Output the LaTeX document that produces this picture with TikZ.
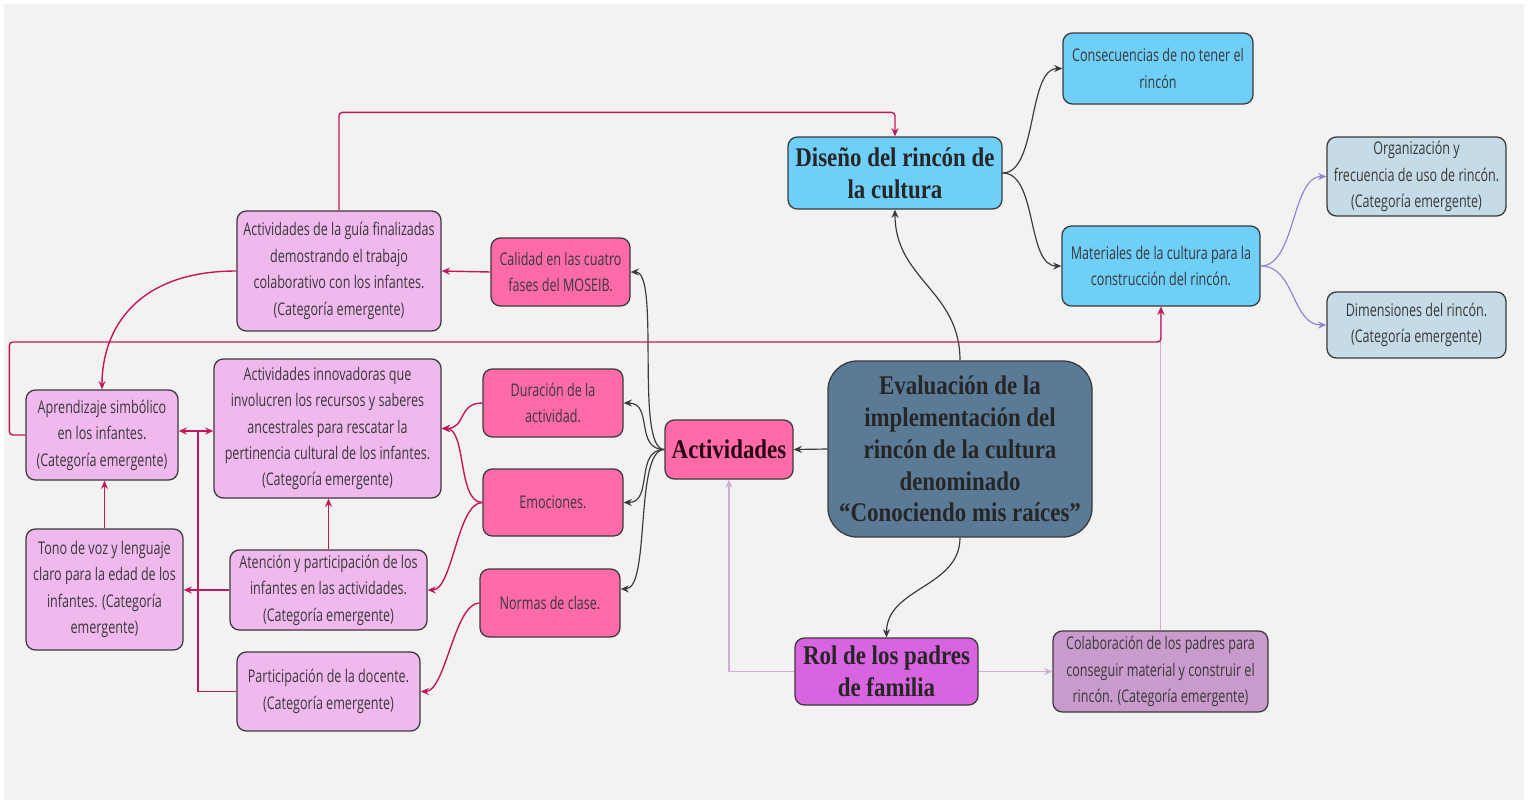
\documentclass[tikz,border=0pt]{standalone}
\usepackage{fontspec}
\setmainfont{Open Sans}[FakeStretch=0.72]
\newfontfamily\headfont{Liberation Serif}[FakeStretch=0.85]
\usetikzlibrary{arrows.meta}
\usetikzlibrary{positioning}

\definecolor{bg}{HTML}{F2F2F2}
\definecolor{skyfill}{HTML}{6FCFF9}
\definecolor{greyblue}{HTML}{C5DCE8}
\definecolor{slate}{HTML}{5B7A96}
\definecolor{hotpink}{HTML}{FF6BA9}
\definecolor{lightpink}{HTML}{F0B9EE}
\definecolor{orchid}{HTML}{D864E0}
\definecolor{mauve}{HTML}{C99BCD}
\definecolor{edgegray}{HTML}{3A3A3A}
\definecolor{magline}{HTML}{C2185B}
\definecolor{lavline}{HTML}{8F86D0}
\definecolor{lilacline}{HTML}{CDB0D4}

\newcommand{\smalltext}{\fontsize{14.9}{22.6}\selectfont}
\newcommand{\headtext}{\headfont\bfseries\fontsize{23}{27.2}\selectfont}

\begin{document}
\begin{tikzpicture}[x=0.03cm,y=-0.03cm,
   >={Stealth[length=7pt,width=6pt]},
   box/.style={draw=edgegray,line width=1.1pt,rounded corners=8pt,align=center,
      inner sep=2pt,font=\smalltext,text=black!78},
   head/.style={box,font=\headtext},
   link/.style={->,draw=edgegray,line width=1pt},
   maglink/.style={->,draw=magline,line width=1.2pt},
   lavlink/.style={->,draw=lavline,line width=1pt},
   lilaclink/.style={->,draw=lilacline,line width=1.2pt}]
   \fill[white] (0,0) rectangle (1528,804);
   \fill[bg] (4,4) rectangle (1524,800);

   \node[head,fill=slate,text=black!85,rounded corners=25pt,minimum width=7.92cm,minimum height=5.28cm]
      (eval) at (960,449) {Evaluación de la\\implementación del\\rincón de la cultura\\denominado\\“Conociendo mis raíces”};
   \node[head,fill=skyfill,text=black!85,minimum width=6.42cm,minimum height=2.16cm]
      (diseno) at (895,173) {Diseño del rincón de\\la cultura};
   \node[head,fill=hotpink,text=black!80!magline,minimum width=3.84cm,minimum height=1.77cm]
      (activ) at (729,449.5) {Actividades};
   \node[head,fill=orchid,text=black!85,minimum width=5.49cm,minimum height=2.01cm]
      (rol) at (886.5,671.5) {Rol de los padres\\de familia};

   \node[box,fill=skyfill,minimum width=5.7cm,minimum height=2.13cm]
      (cons) at (1158,68.5) {Consecuencias de no tener el\\rincón};
   \node[box,fill=skyfill,minimum width=5.94cm,minimum height=2.4cm]
      (mater) at (1161,266) {Materiales de la cultura para la\\construcción del rincón.};
   \node[box,fill=greyblue,minimum width=5.37cm,minimum height=2.37cm]
      (organ) at (1416.5,176.5) {Organización y\\frecuencia de uso de rincón.\\(Categoría emergente)};
   \node[box,fill=greyblue,minimum width=5.37cm,minimum height=1.98cm]
      (dimen) at (1416.5,325) {Dimensiones del rincón.\\(Categoría emergente)};
   \node[box,fill=mauve,minimum width=6.45cm,minimum height=2.43cm]
      (colab) at (1160.5,671.5) {Colaboración de los padres para\\conseguir material y construir el\\rincón. (Categoría emergente)};

   \node[box,fill=hotpink,minimum width=4.17cm,minimum height=2.04cm]
      (calid) at (560.5,272) {Calidad en las cuatro\\fases del MOSEIB.};
   \node[box,fill=hotpink,minimum width=4.2cm,minimum height=2.04cm]
      (durac) at (553,403) {Duración de la\\actividad.};
   \node[box,fill=hotpink,minimum width=4.2cm,minimum height=2.01cm]
      (emoc) at (553,502.5) {Emociones.};
   \node[box,fill=hotpink,minimum width=4.2cm,minimum height=2.04cm]
      (norm) at (550,603) {Normas de clase.};

   \node[box,fill=lightpink,minimum width=6.12cm,minimum height=3.6cm]
      (guia) at (339,271) {Actividades de la guía finalizadas\\demostrando el trabajo\\colaborativo con los infantes.\\(Categoría emergente)};
   \node[box,fill=lightpink,minimum width=6.81cm,minimum height=4.17cm]
      (innov) at (327.5,428.5) {Actividades innovadoras que\\involucren los recursos y saberes\\ancestrales para rescatar la\\pertinencia cultural de los infantes.\\(Categoría emergente)};
   \node[box,fill=lightpink,minimum width=4.56cm,minimum height=2.7cm]
      (aprend) at (102,435) {Aprendizaje simbólico\\en los infantes.\\(Categoría emergente)};
   \node[box,fill=lightpink,minimum width=4.71cm,minimum height=3.63cm]
      (tono) at (104.5,589.5) {Tono de voz y lenguaje\\claro para la edad de los\\infantes. (Categoría\\emergente)};
   \node[box,fill=lightpink,minimum width=5.91cm,minimum height=2.4cm]
      (atenc) at (328.5,590) {Atención y participación de los\\infantes en las actividades.\\(Categoría emergente)};
   \node[box,fill=lightpink,minimum width=5.49cm,minimum height=2.37cm]
      (docen) at (328.5,691.5) {Participación de la docente.\\(Categoría emergente)};

   \coordinate (split) at (198,431);

   \draw[lilaclink] (colab.north) -- (colab.north |- mater.south);
   \draw[lilaclink] (rol.east) -- (colab.west);
   \draw[lilaclink] (rol.west) -| (activ.south);

   \draw[link] (eval.west) -- (activ.east);
   \draw[link] (eval.north) .. controls +(0,-70) and +(0,70) .. (diseno.south);
   \draw[link] (eval.south) .. controls +(0,50) and +(0,-50) .. (rol.north);
   \draw[link] (activ.west) .. controls +(-30,0) and +(30,0) .. (calid.east);
   \draw[link] (activ.west) .. controls +(-30,0) and +(30,0) .. (durac.east);
   \draw[link] (activ.west) .. controls +(-30,0) and +(30,0) .. (emoc.east);
   \draw[link] (activ.west) .. controls +(-30,0) and +(30,0) .. ([yshift=12pt]norm.east);
   \draw[link] (diseno.east) .. controls +(35,0) and +(-35,0) .. (cons.west);
   \draw[link] (diseno.east) .. controls +(35,0) and +(-35,0) .. (mater.west);

   \draw[lavlink] (mater.east) .. controls +(35,0) and +(-35,0) .. (organ.west);
   \draw[lavlink] (mater.east) .. controls +(35,0) and +(-35,0) .. (dimen.west);

   \draw[maglink,rounded corners=3pt] (guia.north) -- ++(0,-98) -| (diseno.north);
   \draw[maglink,rounded corners=3pt] (aprend.west) -- ++(-16,0) -- ++(0,-93) -| (mater.south);
   \draw[maglink] (calid.west) -- (guia.east);
   \draw[maglink] (guia.west) .. controls +(-100,0) and +(0,-60) .. (aprend.north);
   \draw[maglink] (durac.west) .. controls +(-25,0) and +(25,0) .. (innov.east);
   \draw[maglink] (emoc.west) .. controls +(-25,0) and +(25,0) .. (innov.east);
   \draw[maglink] (emoc.west) .. controls +(-25,0) and +(25,0) .. (atenc.east);
   \draw[maglink] (norm.west) .. controls +(-25,0) and +(25,0) .. (docen.east);
   \draw[maglink] (atenc.north) -- (atenc.north |- innov.south);
   \draw[maglink] (atenc.west) -- (atenc.west -| tono.east);
   \draw[maglink] (tono.north) -- (tono.north |- aprend.south);
   \draw[maglink,-] (docen.west) -| (split);
   \draw[maglink] (split) -- (split -| aprend.east);
   \draw[maglink] (split) -- (split -| innov.west);
\end{tikzpicture}
\end{document}
